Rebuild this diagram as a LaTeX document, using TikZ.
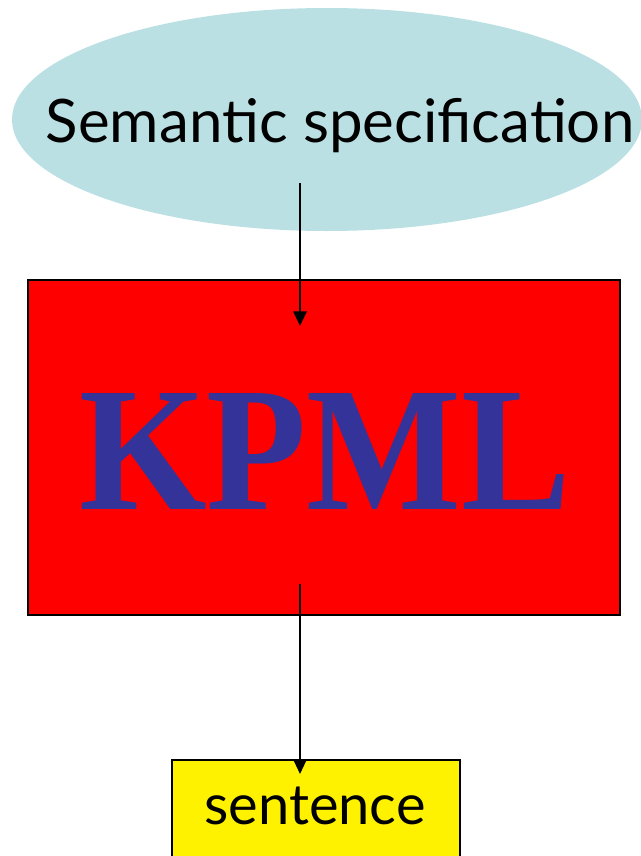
\documentclass[tikz,border=0pt]{standalone}
\usepackage{fontspec}
\setmainfont{Lato}
\newfontfamily\kpmlfont{Liberation Serif}
\usetikzlibrary{shapes.geometric,arrows.meta}
\definecolor{ellblue}{HTML}{BBE0E3}
\definecolor{kpblue}{HTML}{333399}
\begin{document}
\begin{tikzpicture}[x=0.75pt,y=-0.75pt,
  conn/.style={draw=black,line width=1.5pt,-{Triangle[length=11pt,width=10pt]}},
  lbl/.style={inner sep=0pt,anchor=center}]
\useasboundingbox (0,0) rectangle (641,856);
\fill[ellblue] (327,119.5) ellipse [x radius=315, y radius=111.5];
\node[lbl,font=\fontsize{45pt}{50pt}\selectfont] (sem) at (340,126) {Semantic specification};
\node[draw=black,line width=1.2pt,fill=red,minimum width=592*0.75pt,minimum height=335*0.75pt,inner sep=0pt] (kpml) at (324,447.5) {};
\node[lbl,text=kpblue,font=\kpmlfont\bfseries\fontsize{123pt}{140pt}\selectfont] (kt) at (325,452) {\scalebox{1}[1.08]{KPML}};
\draw[line width=1.2pt,fill=yellow] (172,870) -- (172,760) -- (460,760) -- (460,870);
\node[lbl,font=\fontsize{42pt}{46pt}\selectfont] (sent) at (315,806) {sentence};
\coordinate (a1) at (300,183);
\coordinate (a2) at (300,326);
\coordinate (b1) at (300,584);
\coordinate (b2) at (300,774);
\draw[conn] (a1) -- (a2);
\draw[conn] (b1) -- (b2);
\end{tikzpicture}
\end{document}
